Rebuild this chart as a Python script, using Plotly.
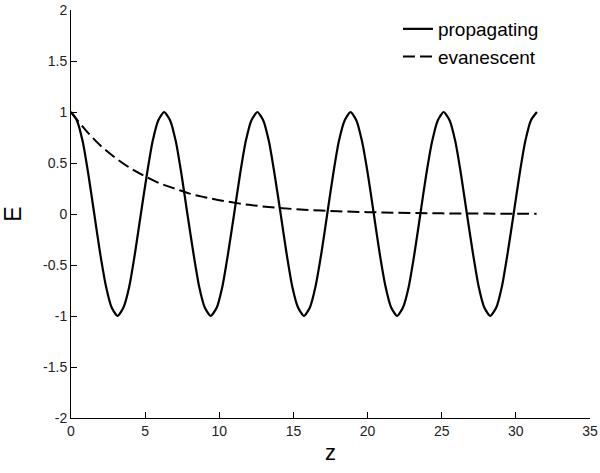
import plotly.graph_objects as go

# propagating wave samples
z_prop = [0.00, 0.39, 0.79, 1.18, 1.57, 1.96, 2.36, 2.75, 3.14, 3.53, 3.93, 4.32, 4.71, 5.11, 5.50, 5.89,
          6.28, 6.68, 7.07, 7.46, 7.85, 8.25, 8.64, 9.03, 9.42, 9.82, 10.21, 10.60, 11.00, 11.39, 11.78, 12.17,
          12.57, 12.96, 13.35, 13.74, 14.14, 14.53, 14.92, 15.32, 15.71, 16.10, 16.49, 16.89, 17.28, 17.67, 18.06, 18.46,
          18.85, 19.24, 19.63, 20.03, 20.42, 20.81, 21.21, 21.60, 21.99, 22.38, 22.78, 23.17, 23.56, 23.95, 24.35, 24.74,
          25.13, 25.53, 25.92, 26.31, 26.70, 27.10, 27.49, 27.88, 28.27, 28.67, 29.06, 29.45, 29.85, 30.24, 30.63, 31.02,
          31.42]
E_prop = [1.0, 0.92, 0.71, 0.38, 0.0, -0.38, -0.71, -0.92, -1.0, -0.92, -0.71, -0.38, 0.0, 0.38, 0.71, 0.92,
          1.0, 0.92, 0.71, 0.38, 0.0, -0.38, -0.71, -0.92, -1.0, -0.92, -0.71, -0.38, 0.0, 0.38, 0.71, 0.92,
          1.0, 0.92, 0.71, 0.38, 0.0, -0.38, -0.71, -0.92, -1.0, -0.92, -0.71, -0.38, 0.0, 0.38, 0.71, 0.92,
          1.0, 0.92, 0.71, 0.38, 0.0, -0.38, -0.71, -0.92, -1.0, -0.92, -0.71, -0.38, 0.0, 0.38, 0.71, 0.92,
          1.0, 0.92, 0.71, 0.38, 0.0, -0.38, -0.71, -0.92, -1.0, -0.92, -0.71, -0.38, 0.0, 0.38, 0.71, 0.92,
          1.0]

# evanescent wave samples
z_evan = [0, 1, 2, 3, 4, 5, 6, 7, 8, 9, 10, 12, 14, 16, 18, 20, 22, 24, 26, 28, 30, 31.4]
E_evan = [1.0, 0.82, 0.67, 0.55, 0.45, 0.37, 0.30, 0.25, 0.20, 0.165, 0.135, 0.09, 0.06,
          0.04, 0.027, 0.018, 0.012, 0.008, 0.005, 0.004, 0.002, 0.002]

x_ticks = [0, 5, 10, 15, 20, 25, 30, 35]
y_ticks = [-2, -1.5, -1, -0.5, 0, 0.5, 1, 1.5, 2]

FONT = "Liberation Sans, Arial, sans-serif"

fig = go.Figure()
fig.add_trace(go.Scatter(x=z_prop, y=E_prop, mode="lines", name="propagating",
                         line=dict(color="black", width=2.2, shape="spline", smoothing=0.6)))
fig.add_trace(go.Scatter(x=z_evan, y=E_evan, mode="lines", name="evanescent",
                         line=dict(color="black", width=2, dash="12px,5px", shape="spline")))

axis_common = dict(showgrid=False, zeroline=False, showline=True, linecolor="black",
                   linewidth=1, ticks="inside", ticklen=6, tickcolor="black",
                   ticklabeloverflow="allow", automargin=False,
                   tickfont=dict(family=FONT, size=14, color="#222"), mirror=False)

fig.update_layout(
    width=600, height=473,
    margin=dict(l=71, r=10, t=10, b=55, autoexpand=False),
    paper_bgcolor="white", plot_bgcolor="white",
    xaxis=dict(range=[0, 35], tickvals=x_ticks, ticktext=[str(v) for v in x_ticks],
               title=dict(text="z", font=dict(family=FONT, size=22, color="black"), standoff=6),
               **axis_common),
    yaxis=dict(range=[-2, 2], tickvals=y_ticks, ticktext=[f"{v:g}" for v in y_ticks],
               title=dict(text="E", font=dict(family=FONT, size=23, color="black"), standoff=18),
               **axis_common),
    legend=dict(x=0.63, y=1.0, xanchor="left", yanchor="top",
                font=dict(family=FONT, size=19, color="black"),
                bgcolor="rgba(0,0,0,0)", tracegroupgap=0),
    showlegend=True,
)

fig.write_html("out.html")
